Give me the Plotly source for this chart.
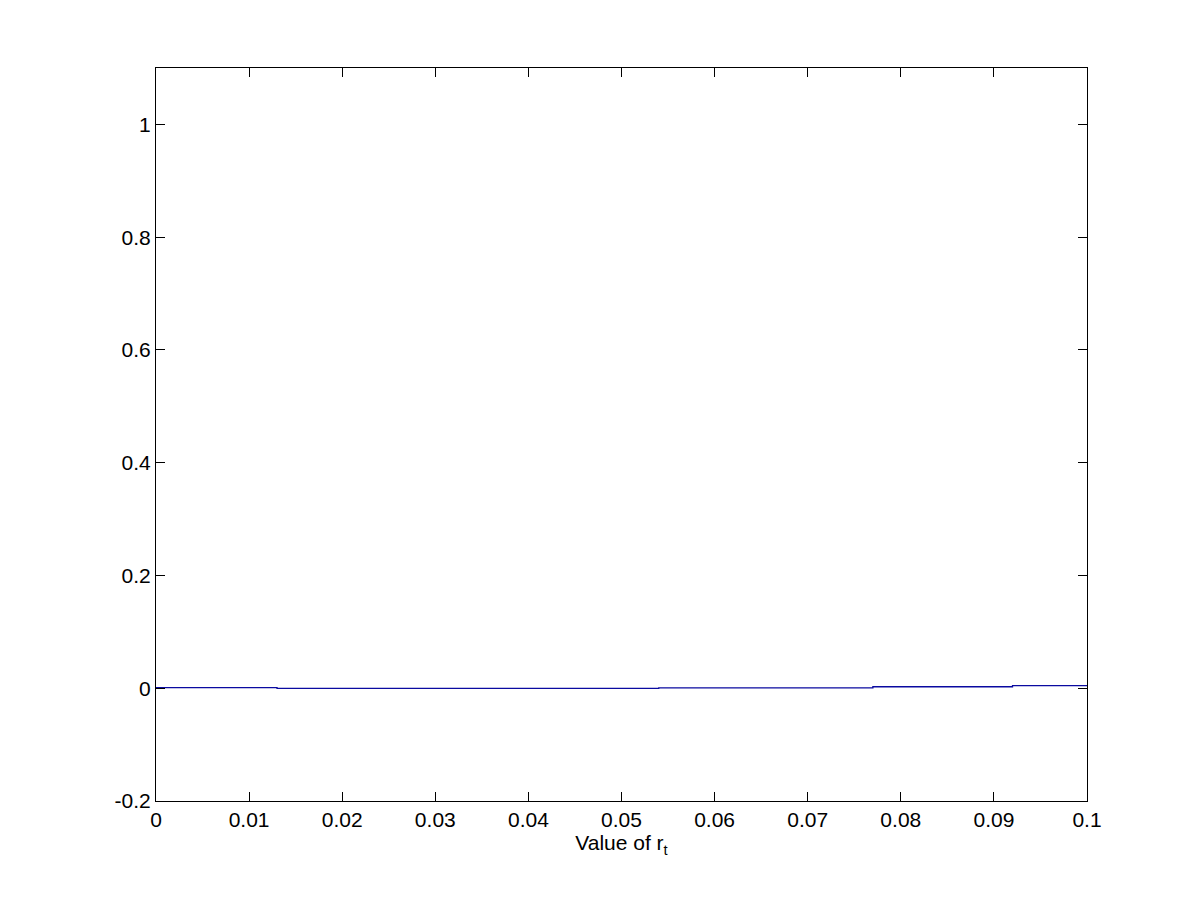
import plotly.graph_objects as go

# step-like series
r_t = [0, 0.013, 0.054, 0.077, 0.092, 0.1]
value = [0.001, -0.0004, 0.0008, 0.0026, 0.0045, 0.0045]

x_ticks = [0, 0.01, 0.02, 0.03, 0.04, 0.05, 0.06, 0.07, 0.08, 0.09, 0.1]
x_labels = ['0', '0.01', '0.02', '0.03', '0.04', '0.05', '0.06', '0.07', '0.08', '0.09', '0.1']
y_ticks = [-0.2, 0, 0.2, 0.4, 0.6, 0.8, 1]
y_labels = ['-0.2', '0', '0.2', '0.4', '0.6', '0.8', '1']

fig = go.Figure()
fig.add_trace(go.Scatter(x=r_t, y=value, mode='lines', line_shape='hv',
                         line=dict(color='#0a0aa0', width=1.3), showlegend=False))

axis_style = dict(showline=True, linecolor='black', linewidth=1, mirror='ticks',
                  ticks='inside', ticklen=9, tickcolor='black', showgrid=False,
                  zeroline=False, tickfont=dict(family='Liberation Sans, Arial', size=21, color='black'))

fig.update_xaxes(range=[0, 0.1], tickvals=x_ticks, ticktext=x_labels,
                 title=dict(text='Value of r<sub>t</sub>', standoff=4,
                            font=dict(family='Liberation Sans, Arial', size=21, color='black')),
                 **axis_style)
fig.update_yaxes(range=[-0.2, 1.1], tickvals=y_ticks, ticktext=y_labels, **axis_style)

fig.update_layout(width=1201, height=901, plot_bgcolor='white', paper_bgcolor='white',
                  margin=dict(l=148, r=122, t=60, b=108))

fig.write_html("out.html")
